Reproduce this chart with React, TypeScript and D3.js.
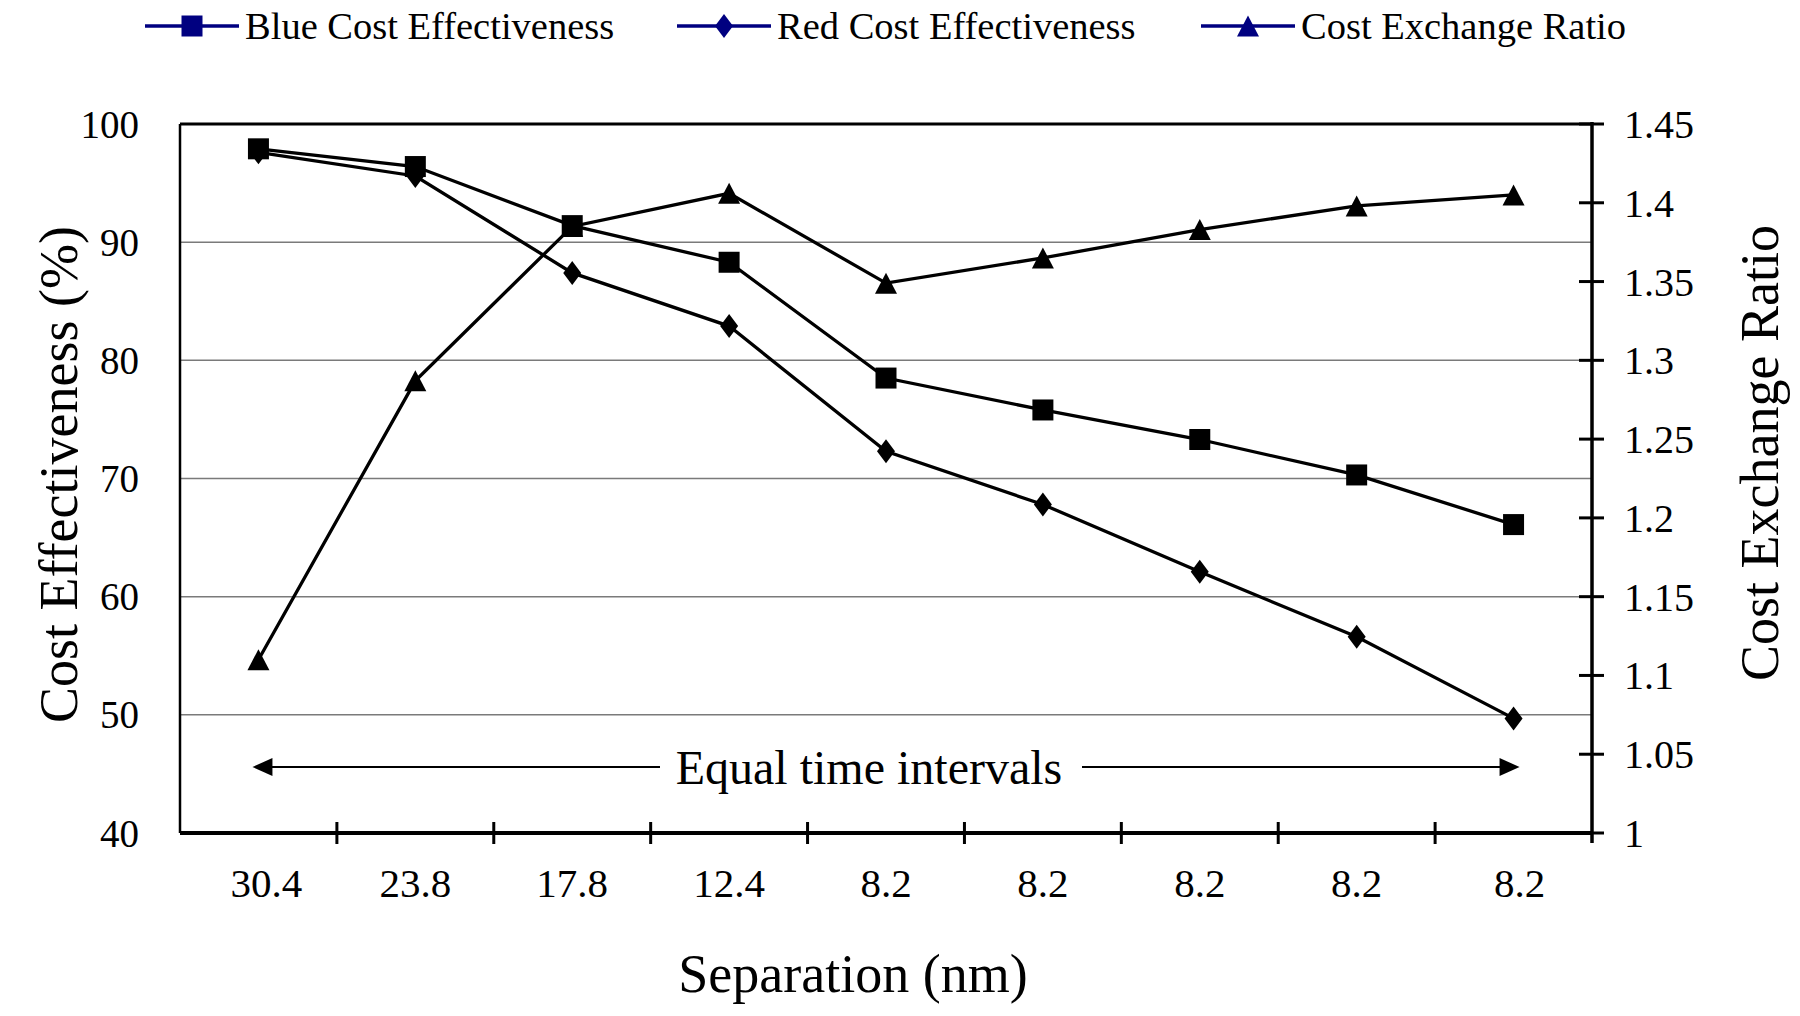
import React, { useEffect, useRef } from "react";
import * as d3 from "d3";

// separation per step (nm), equal time intervals
const separations = ["30.4", "23.8", "17.8", "12.4", "8.2", "8.2", "8.2", "8.2", "8.2"];
const blueEffectiveness = [97.9, 96.4, 91.4, 88.3, 78.5, 75.8, 73.3, 70.3, 66.1];
const redEffectiveness = [97.6, 95.6, 87.4, 82.9, 72.3, 67.8, 62.1, 56.6, 49.7];
const exchangeRatio = [1.11, 1.287, 1.385, 1.406, 1.349, 1.365, 1.383, 1.398, 1.405];

const leftTicks = [40, 50, 60, 70, 80, 90, 100];
const rightTicks = [1, 1.05, 1.1, 1.15, 1.2, 1.25, 1.3, 1.35, 1.4, 1.45];

const W = 1800;
const H = 1016;
const margin = { top: 124, right: 208, bottom: 183, left: 180 };
const FONT = "'Liberation Serif', 'Times New Roman', serif";
const NAVY = "#000080";

// custom marker shapes (size = full height in px)
const squareShape = {
  draw(ctx: any, size: number) {
    const r = size / 2;
    ctx.rect(-r, -r, size, size);
  },
};
const diamondShape = {
  draw(ctx: any, size: number) {
    const h = size / 2;
    const w = h * 0.75;
    ctx.moveTo(0, -h);
    ctx.lineTo(w, 0);
    ctx.lineTo(0, h);
    ctx.lineTo(-w, 0);
    ctx.closePath();
  },
};
const triangleShape = {
  draw(ctx: any, size: number) {
    const h = size / 2;
    ctx.moveTo(0, -h);
    ctx.lineTo(h + 0.5, h);
    ctx.lineTo(-h - 0.5, h);
    ctx.closePath();
  },
};

const App = () => {
  const ref = useRef<SVGSVGElement | null>(null);

  useEffect(() => {
    const svg = d3.select(ref.current);
    svg.selectAll("*").remove();

    const x0 = margin.left;
    const x1 = W - margin.right;
    const y0 = H - margin.bottom;
    const y1 = margin.top;

    const x = d3
      .scaleBand<number>()
      .domain(d3.range(separations.length))
      .range([x0, x1]);
    const cx = (i: number) => (x(i) as number) + x.bandwidth() / 2;

    const yLeft = d3.scaleLinear().domain([40, 100]).range([y0, y1]);
    const yRight = d3.scaleLinear().domain([1, 1.45]).range([y0, y1]);

    // gridlines
    svg
      .append("g")
      .selectAll("line")
      .data(leftTicks.filter((t) => t > 40 && t < 100))
      .enter()
      .append("line")
      .attr("x1", x0)
      .attr("x2", x1)
      .attr("y1", (d) => yLeft(d))
      .attr("y2", (d) => yLeft(d))
      .attr("stroke", "#7a7a7a")
      .attr("stroke-width", 1.5);

    // frame: left and top
    svg
      .append("line")
      .attr("x1", x0)
      .attr("x2", x0)
      .attr("y1", y1)
      .attr("y2", y0)
      .attr("stroke", "#000")
      .attr("stroke-width", 2.5);
    svg
      .append("line")
      .attr("x1", x0)
      .attr("x2", x1)
      .attr("y1", y1)
      .attr("y2", y1)
      .attr("stroke", "#000")
      .attr("stroke-width", 3);

    // bottom axis
    svg
      .append("line")
      .attr("x1", x0)
      .attr("x2", x1)
      .attr("y1", y0)
      .attr("y2", y0)
      .attr("stroke", "#000")
      .attr("stroke-width", 4);
    svg
      .append("g")
      .selectAll("line")
      .data(d3.range(1, separations.length))
      .enter()
      .append("line")
      .attr("x1", (d) => x(d) as number)
      .attr("x2", (d) => x(d) as number)
      .attr("y1", y0 - 11)
      .attr("y2", y0 + 11)
      .attr("stroke", "#000")
      .attr("stroke-width", 3);
    svg
      .append("g")
      .selectAll("text")
      .data(separations)
      .enter()
      .append("text")
      .attr("x", (_, i) => cx(i) + (i === 0 ? 8 : i === separations.length - 1 ? 6 : 0))
      .attr("y", 897)
      .attr("text-anchor", "middle")
      .attr("font-family", FONT)
      .attr("font-size", 41)
      .text((d) => d);

    // right axis
    svg
      .append("line")
      .attr("x1", x1)
      .attr("x2", x1)
      .attr("y1", y1 - 2)
      .attr("y2", y0 + 10)
      .attr("stroke", "#000")
      .attr("stroke-width", 3.5);
    svg
      .append("g")
      .selectAll("line")
      .data(rightTicks)
      .enter()
      .append("line")
      .attr("x1", x1 - 13)
      .attr("x2", x1 + 12)
      .attr("y1", (d) => yRight(d))
      .attr("y2", (d) => yRight(d))
      .attr("stroke", "#000")
      .attr("stroke-width", 3);
    svg
      .append("g")
      .selectAll("text")
      .data(rightTicks)
      .enter()
      .append("text")
      .attr("x", x1 + 32)
      .attr("y", (d) => yRight(d))
      .attr("dy", "0.35em")
      .attr("font-family", FONT)
      .attr("font-size", 40)
      .text((d) => String(d));

    // left axis labels
    svg
      .append("g")
      .selectAll("text")
      .data(leftTicks)
      .enter()
      .append("text")
      .attr("x", 139)
      .attr("y", (d) => yLeft(d))
      .attr("dy", "0.35em")
      .attr("text-anchor", "end")
      .attr("font-family", FONT)
      .attr("font-size", 39)
      .text((d) => String(d));

    // axis titles
    svg
      .append("text")
      .attr("x", 853)
      .attr("y", 992)
      .attr("text-anchor", "middle")
      .attr("font-family", FONT)
      .attr("font-size", 54)
      .text("Separation (nm)");
    svg
      .append("text")
      .attr("transform", `translate(77, ${(y0 + y1) / 2 - 4}) rotate(-90)`)
      .attr("text-anchor", "middle")
      .attr("font-family", FONT)
      .attr("font-size", 54)
      .text("Cost Effectiveness (%)");
    svg
      .append("text")
      .attr("transform", `translate(1778, 453) rotate(-90)`)
      .attr("text-anchor", "middle")
      .attr("font-family", FONT)
      .attr("font-size", 54)
      .text("Cost Exchange Ratio");

    // equal time intervals annotation
    const arrowY = 767;
    const arrow = svg.append("g").attr("stroke", "#000").attr("fill", "#000");
    const headL = cx(0) - 6;
    const headR = cx(separations.length - 1) + 6;
    arrow
      .append("line")
      .attr("x1", 660)
      .attr("x2", headL + 16)
      .attr("y1", arrowY)
      .attr("y2", arrowY)
      .attr("stroke-width", 2);
    arrow
      .append("path")
      .attr("stroke", "none")
      .attr("d", `M${headL},${arrowY} L${headL + 20},${arrowY - 9} L${headL + 20},${arrowY + 9} Z`);
    arrow
      .append("line")
      .attr("x1", 1082)
      .attr("x2", headR - 16)
      .attr("y1", arrowY)
      .attr("y2", arrowY)
      .attr("stroke-width", 2);
    arrow
      .append("path")
      .attr("stroke", "none")
      .attr("d", `M${headR},${arrowY} L${headR - 20},${arrowY - 9} L${headR - 20},${arrowY + 9} Z`);
    svg
      .append("text")
      .attr("x", 869)
      .attr("y", 784)
      .attr("text-anchor", "middle")
      .attr("font-family", FONT)
      .attr("font-size", 48)
      .text("Equal time intervals");

    // series
    const series = [
      { values: blueEffectiveness, y: yLeft, shape: squareShape, size: 21 },
      { values: redEffectiveness, y: yLeft, shape: diamondShape, size: 24 },
      { values: exchangeRatio, y: yRight, shape: triangleShape, size: 21 },
    ];

    series.forEach((s) => {
      const line = d3
        .line<number>()
        .x((_, i) => cx(i))
        .y((d) => s.y(d));
      svg
        .append("path")
        .attr("d", line(s.values))
        .attr("fill", "none")
        .attr("stroke", "#000")
        .attr("stroke-width", 3.3);
      svg
        .append("g")
        .selectAll("path")
        .data(s.values)
        .enter()
        .append("path")
        .attr("transform", (d, i) => `translate(${cx(i)},${s.y(d)})`)
        .attr("d", d3.symbol().type(s.shape as any).size(s.size)() as string)
        .attr("fill", "#000");
    });

    // legend
    const legendItems = [
      { label: "Blue Cost Effectiveness", shape: squareShape, size: 21, x: 145 },
      { label: "Red Cost Effectiveness", shape: diamondShape, size: 24, x: 677 },
      { label: "Cost Exchange Ratio", shape: triangleShape, size: 21, x: 1201 },
    ];
    const legend = svg
      .append("g")
      .selectAll("g")
      .data(legendItems)
      .enter()
      .append("g")
      .attr("transform", (d) => `translate(${d.x},26)`);
    legend
      .append("line")
      .attr("x1", 0)
      .attr("x2", 94)
      .attr("stroke", NAVY)
      .attr("stroke-width", 3.5);
    legend
      .append("path")
      .attr("transform", "translate(47,0)")
      .attr("d", (d) => d3.symbol().type(d.shape as any).size(d.size)() as string)
      .attr("fill", NAVY);
    legend
      .append("text")
      .attr("x", 100)
      .attr("dy", "0.35em")
      .attr("font-family", FONT)
      .attr("font-size", 38.5)
      .text((d) => d.label);
  }, []);

  return (
    <svg
      ref={ref}
      width={W}
      height={H}
      style={{ position: "absolute", left: 0, top: 0, background: "#fff" }}
    />
  );
};

export default App;
